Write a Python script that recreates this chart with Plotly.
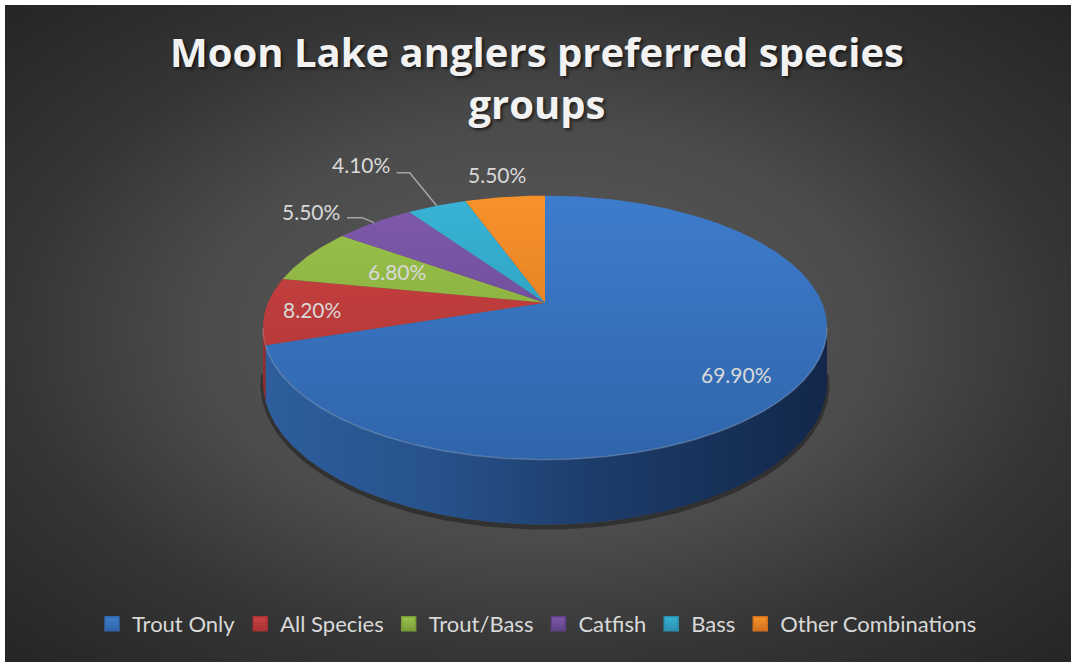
import math
import plotly.graph_objects as go

# ---- data -------------------------------------------------------------
species = ["Trout Only", "All Species", "Trout/Bass", "Catfish", "Bass", "Other Combinations"]
shares = [69.9, 8.2, 6.8, 5.5, 4.1, 5.5]          # percent of anglers

# ---- styling ----------------------------------------------------------
top_light = ["#3d7ccc", "#cc4440", "#9cc44b", "#805aad", "#38b3d6", "#f7922b"]
top_dark = ["#3065ab", "#a83235", "#7a9d38", "#5f4286", "#2a90ad", "#d3701e"]
side_scales = [
    [[0, "#2e5e9d"], [0.3, "#27528c"], [0.6, "#1c3c69"], [1, "#12274a"]],
    [[0, "#962a2c"], [1, "#7e2224"]],
    [[0, "#6c8c30"], [1, "#5a7528"]],
    [[0, "#55397a"], [1, "#47306a"]],
    [[0, "#257f99"], [1, "#1f6a80"]],
    [[0, "#b9621a"], [1, "#9d5316"]],
]
label_font = dict(family="Lato", size=21, color="#d9d9d9")

# label placement per slice: ("in", radial fraction, nudge) or
# ("out", label offset, leader-line offsets) relative to the rim point
label_style = [
    ("in", 0.78, (0, 8)),
    ("in", 0.84, (2, 0)),
    ("in", 0.61, (0, -2)),
    ("out", (-63, -11), [(0, 0), (-12, -5), (-27, -5)]),
    ("out", (-76, -41), [(0, 0), (-27, -33), (-40, -33)]),
    ("out", (-8, -22), None),
]

# ---- canvas / pie geometry (pixel units) -------------------------------
W, H = 1074, 662
FRAME = dict(x0=5, x1=1071, y0=5, y1=662)   # dark chart area inside the white border
CX, CY = 545.0, 302.7       # projected pie centre
RX, RY = 277.0, 127.3       # disc radii before perspective
PERSP = 0.189               # perspective strength
DEPTH = 52.7                # thickness of the disc


def project(theta, frac=1.0, drop=0.0):
    t = math.radians(theta)
    u, v = frac * math.sin(t), frac * math.cos(t)
    w = 1.0 / (1.0 + PERSP * v)
    return CX + RX * u * w, CY + (drop - RY * v) * w


def arc(a, b, frac=1.0, drop=0.0):
    n = max(2, int(abs(b - a) / 0.5) + 1)
    return [project(a + (b - a) * i / (n - 1), frac, drop) for i in range(n)]


def xs(pts):
    return [p[0] for p in pts]


def ys(pts):
    return [p[1] for p in pts]


bounds = [0.0]
for s in shares:
    bounds.append(bounds[-1] + s * 3.6)

vis_lo = math.degrees(math.acos(-PERSP))
vis_hi = 360.0 - vis_lo
rim = arc(0, 360)
top_y0, top_y1 = min(ys(rim)), max(ys(rim))
pie_x0, pie_x1 = min(xs(rim)), max(xs(rim))

fig = go.Figure()

# backdrop: radial shading whose ellipse reaches the frame corners
# (the oversized rectangle is clipped to the plot area = frame)
fcx, fcy = (FRAME["x0"] + FRAME["x1"]) / 2, (FRAME["y0"] + FRAME["y1"]) / 2
hw = (FRAME["x1"] - FRAME["x0"]) / 2 * math.sqrt(2)
hh = (FRAME["y1"] - FRAME["y0"]) / 2 * math.sqrt(2)
fig.add_trace(go.Scatter(
    x=[fcx - hw, fcx + hw, fcx + hw, fcx - hw, fcx - hw],
    y=[fcy - hh, fcy - hh, fcy + hh, fcy + hh, fcy - hh],
    mode="lines", line=dict(width=0), fill="toself",
    fillgradient=dict(type="radial", colorscale=[
        [0, "#5c5c5c"], [0.45, "#4b4b4b"], [0.7, "#353535"], [1, "#252525"]]),
    hoverinfo="skip", showlegend=False))

# soft shadow under the disc
shadow = arc(vis_lo - 4, vis_hi + 4, 1.0, DEPTH + 2)
fig.add_trace(go.Scatter(x=xs(shadow), y=ys(shadow), mode="lines",
                         line=dict(color="rgba(0,0,0,0.35)", width=5),
                         hoverinfo="skip", showlegend=False))

# side walls (front half only)
for i in range(len(shares)):
    lo, hi = max(bounds[i], vis_lo), min(bounds[i + 1], vis_hi)
    if lo >= hi:
        continue
    pts = arc(lo, hi) + arc(hi, lo, 1.0, DEPTH)
    pts.append(pts[0])
    fig.add_trace(go.Scatter(
        x=xs(pts), y=ys(pts), mode="lines", line=dict(width=0), fill="toself",
        fillgradient=dict(type="horizontal", start=pie_x0, stop=pie_x1,
                          colorscale=side_scales[i]),
        hoverinfo="skip", showlegend=False))

# top faces
for i in range(len(shares)):
    pts = [(CX, CY)] + arc(bounds[i], bounds[i + 1]) + [(CX, CY)]
    fig.add_trace(go.Scatter(
        x=xs(pts), y=ys(pts), mode="lines", line=dict(width=0), fill="toself",
        fillgradient=dict(type="vertical", start=top_y0, stop=top_y1,
                          colorscale=[[0, top_light[i]], [1, top_dark[i]]]),
        hoverinfo="skip", showlegend=False))

# bevel highlight along the front rim
hl = arc(vis_lo, vis_hi)
fig.add_trace(go.Scatter(x=xs(hl), y=ys(hl), mode="lines",
                         line=dict(color="rgba(255,255,255,0.18)", width=1.5),
                         hoverinfo="skip", showlegend=False))

# legend entries
for i, name in enumerate(species):
    fig.add_trace(go.Scatter(
        x=[None], y=[None], mode="markers", name=name,
        marker=dict(symbol="square", size=14, color=top_light[i],
                    line=dict(color=top_dark[i], width=1.5),
                    gradient=dict(type="vertical", color=top_dark[i]))))

# data labels
annotations = []
for i, s in enumerate(shares):
    mid = (bounds[i] + bounds[i + 1]) / 2
    text = f"{s:.2f}%"
    style = label_style[i]
    if style[0] == "in":
        lx, ly = project(mid, style[1])
        lx, ly = lx + style[2][0], ly + style[2][1]
    else:
        rx, ry = project(mid)
        lx, ly = rx + style[1][0], ry + style[1][1]
        if style[2]:
            fig.add_trace(go.Scatter(
                x=[rx + dx for dx, _ in style[2]], y=[ry + dy for _, dy in style[2]],
                mode="lines", line=dict(color="#a6a6a6", width=1.5),
                hoverinfo="skip", showlegend=False))
    annotations.append(dict(x=lx, y=ly, xref="x", yref="y", text=text,
                            showarrow=False, font=label_font,
                            xanchor="center", yanchor="middle"))

fig.update_layout(
    width=W, height=H,
    margin=dict(l=0, r=0, t=0, b=0, pad=0),
    paper_bgcolor="white", plot_bgcolor="#262626",
    xaxis=dict(range=[FRAME["x0"], FRAME["x1"]],
               domain=[FRAME["x0"] / W, FRAME["x1"] / W], visible=False, fixedrange=True),
    yaxis=dict(range=[FRAME["y1"], FRAME["y0"]],
               domain=[1 - FRAME["y1"] / H, 1 - FRAME["y0"] / H], visible=False, fixedrange=True),
    title=dict(text="Moon Lake anglers preferred species<br>groups",
               x=0.5, xanchor="center", yref="container", y=1 - 67 / H, yanchor="top",
               font=dict(family="Open Sans", size=40, weight="bold", color="#f2f2f2",
                         shadow="2px 2px 3px rgba(0,0,0,0.6)")),
    legend=dict(orientation="h", x=0.5, xanchor="center", y=1 - 624 / H, yanchor="middle",
                font=dict(family="Lato", size=22, color="#d9d9d9"),
                bgcolor="rgba(0,0,0,0)", itemclick=False, itemdoubleclick=False),
    annotations=annotations,
    hovermode=False,
)

fig.write_html("out.html")
